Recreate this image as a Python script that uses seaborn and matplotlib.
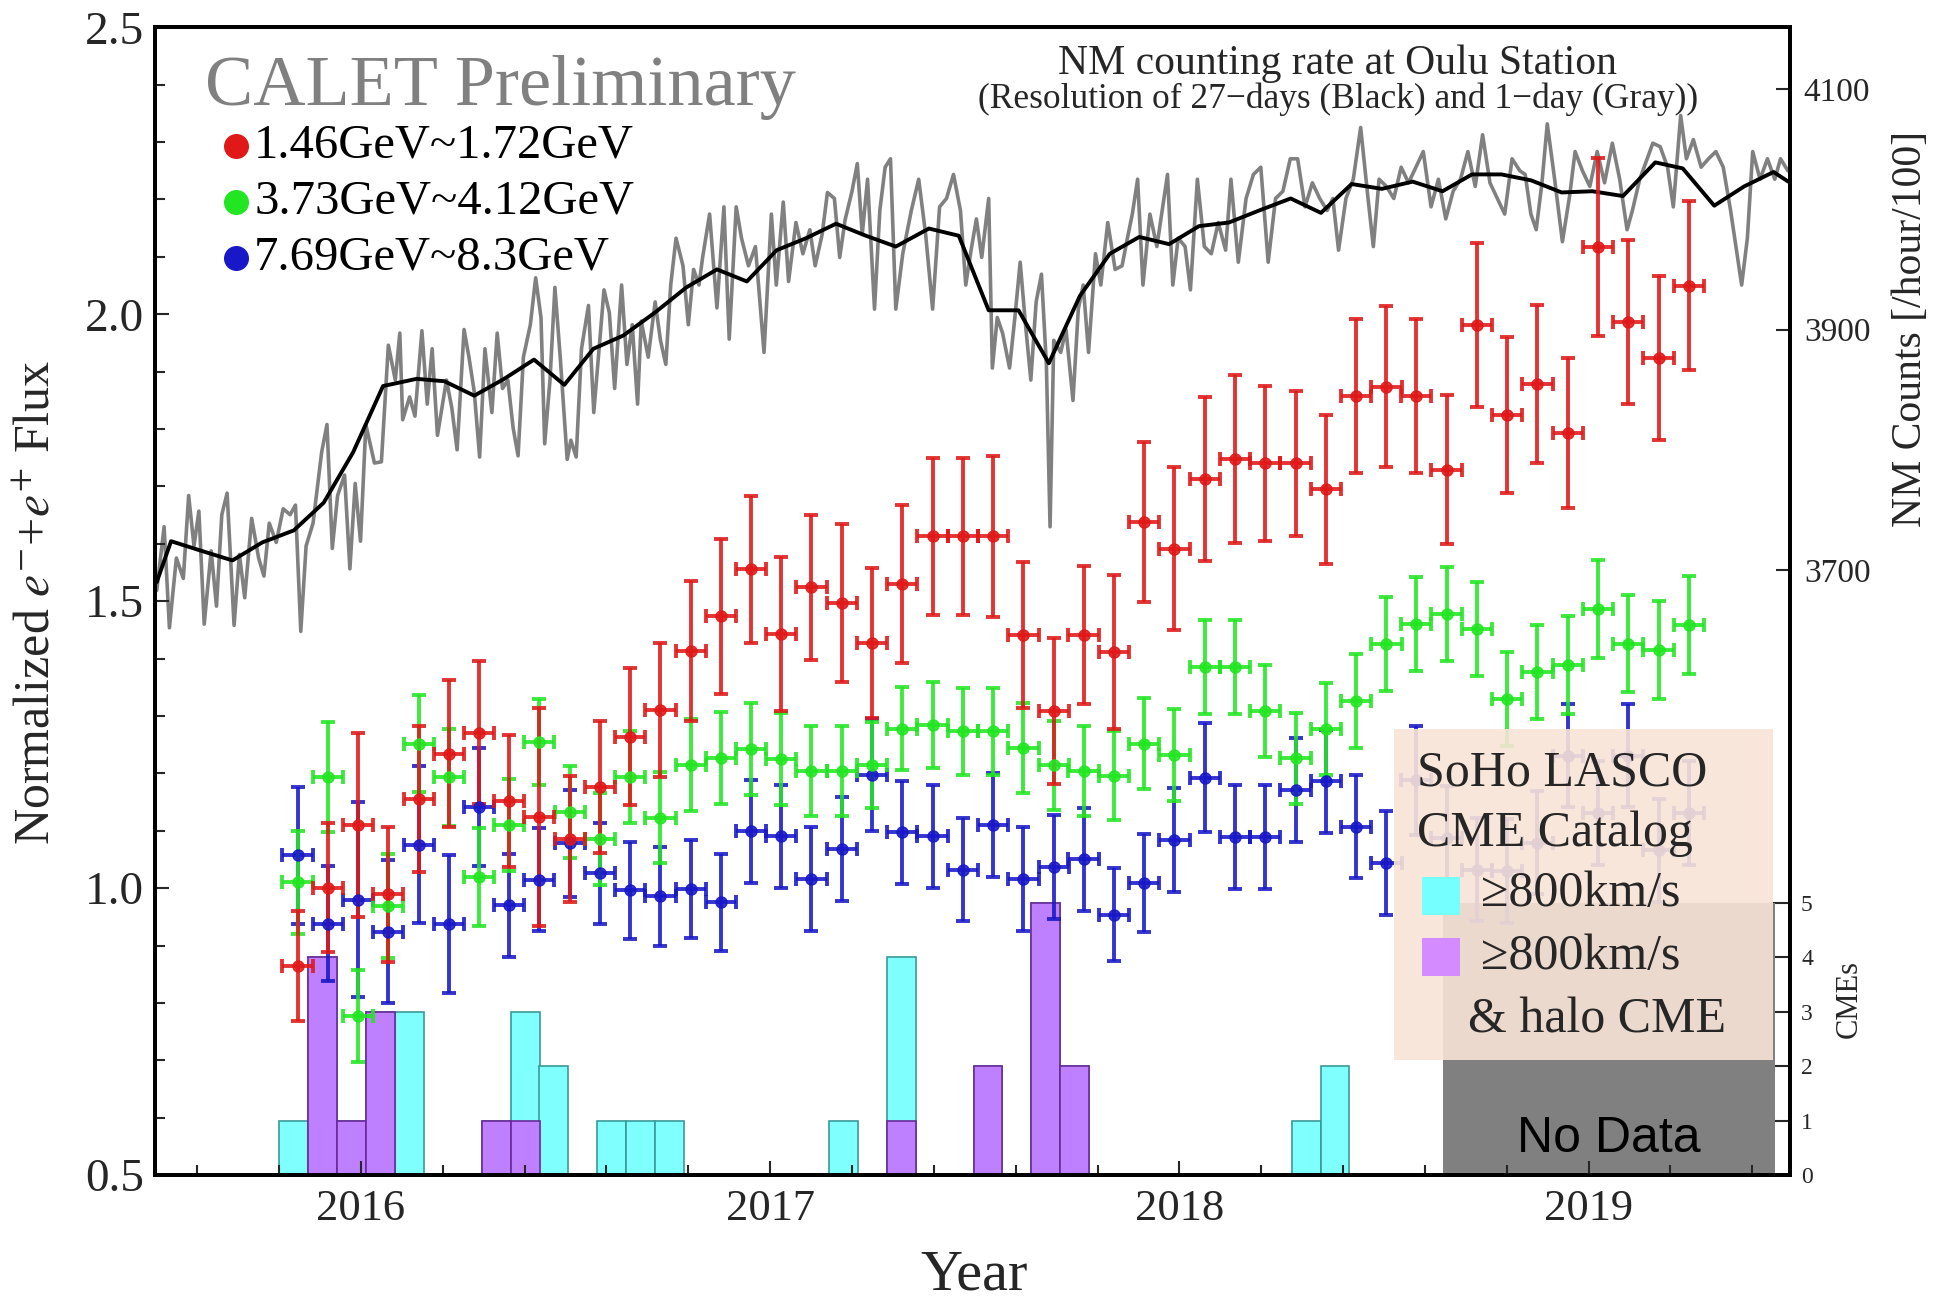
import numpy as np
import pandas as pd
import matplotlib
matplotlib.use("Agg")
import matplotlib.pyplot as plt
from matplotlib.patches import Rectangle
from matplotlib.ticker import MultipleLocator
import seaborn as sns

# ---------------------------------------------------------------- data
# Bartels-rotation (27-day) bin centres, decimal years
bin_year = [2015.845, 2015.919, 2015.993, 2016.067, 2016.141, 2016.215, 2016.288,
            2016.362, 2016.436, 2016.510, 2016.584, 2016.658, 2016.732, 2016.806,
            2016.880, 2016.954, 2017.027, 2017.101, 2017.175, 2017.249, 2017.323,
            2017.397, 2017.471, 2017.545, 2017.619, 2017.693, 2017.766, 2017.840,
            2017.914, 2017.988, 2018.062, 2018.136, 2018.210, 2018.284, 2018.358,
            2018.432, 2018.506, 2018.579, 2018.653, 2018.727, 2018.801, 2018.875,
            2018.949, 2019.023, 2019.097, 2019.171, 2019.245]
bin_half_width = 13.5 / 365.25

flux_low = [0.865, 1.001, 1.110, 0.989, 1.155, 1.234, 1.271, 1.152, 1.124, 1.085,
            1.176, 1.264, 1.311, 1.414, 1.474, 1.556, 1.443, 1.524, 1.497, 1.427,
            1.530, 1.613, 1.613, 1.613, 1.441, 1.308, 1.441, 1.411, 1.638, 1.591,
            1.713, 1.748, 1.740, 1.740, 1.695, 1.857, 1.874, 1.857, 1.729, 1.981,
            1.824, 1.879, 1.793, 2.117, 1.986, 1.924, 2.050]
err_low = [0.096, 0.112, 0.160, 0.118, 0.127, 0.128, 0.125, 0.115, 0.190, 0.110,
           0.115, 0.120, 0.117, 0.122, 0.135, 0.128, 0.134, 0.126, 0.138, 0.130,
           0.138, 0.137, 0.137, 0.140, 0.127, 0.127, 0.120, 0.134, 0.140, 0.142,
           0.143, 0.147, 0.135, 0.127, 0.130, 0.134, 0.140, 0.134, 0.130, 0.143,
           0.136, 0.138, 0.130, 0.155, 0.143, 0.143, 0.147]

flux_mid = [1.010, 1.193, 0.777, 0.969, 1.252, 1.193, 1.019, 1.110, 1.254, 1.132,
            1.085, 1.194, 1.123, 1.214, 1.227, 1.243, 1.225, 1.204, 1.204, 1.214,
            1.278, 1.285, 1.273, 1.273, 1.244, 1.214, 1.204, 1.196, 1.252, 1.232,
            1.386, 1.386, 1.308, 1.226, 1.278, 1.326, 1.426, 1.460, 1.478, 1.452,
            1.330, 1.376, 1.389, 1.486, 1.426, 1.415, 1.459]
err_mid = [0.090, 0.096, 0.080, 0.090, 0.085, 0.085, 0.085, 0.080, 0.075, 0.080,
           0.080, 0.080, 0.080, 0.080, 0.080, 0.080, 0.080, 0.078, 0.078, 0.075,
           0.073, 0.075, 0.075, 0.075, 0.078, 0.078, 0.078, 0.078, 0.080, 0.080,
           0.082, 0.082, 0.080, 0.080, 0.080, 0.082, 0.082, 0.082, 0.082, 0.082,
           0.082, 0.082, 0.085, 0.085, 0.085, 0.085, 0.085]

flux_high = [1.057, 0.938, 0.980, 0.924, 1.076, 0.938, 1.141, 0.970, 1.015, 1.078,
             1.026, 0.996, 0.986, 0.998, 0.975, 1.099, 1.090, 1.016, 1.068, 1.197,
             1.097, 1.090, 1.032, 1.110, 1.016, 1.037, 1.050, 0.954, 1.009, 1.084,
             1.192, 1.089, 1.089, 1.171, 1.186, 1.107, 1.044, 1.188, 1.088, 1.032,
             1.030, 1.079, 1.231, 1.131, 1.231, 1.066, 1.131]
err_high = [0.120, 0.100, 0.170, 0.125, 0.137, 0.120, 0.103, 0.090, 0.090, 0.093,
            0.088, 0.085, 0.086, 0.085, 0.084, 0.090, 0.090, 0.090, 0.090, 0.097,
            0.090, 0.090, 0.090, 0.090, 0.090, 0.090, 0.090, 0.081, 0.085, 0.090,
            0.095, 0.090, 0.090, 0.090, 0.090, 0.090, 0.090, 0.095, 0.090, 0.090,
            0.090, 0.090, 0.090, 0.090, 0.090, 0.090, 0.090]

# Oulu neutron monitor, 27-day averages
nm27_year = [2015.501, 2015.536, 2015.610, 2015.686, 2015.759, 2015.836, 2015.909,
             2015.981, 2016.054, 2016.136, 2016.204, 2016.277, 2016.350, 2016.423,
             2016.497, 2016.568, 2016.641, 2016.718, 2016.795, 2016.870, 2016.943,
             2017.016, 2017.088, 2017.161, 2017.234, 2017.307, 2017.388, 2017.461,
             2017.534, 2017.607, 2017.681, 2017.757, 2017.830, 2017.902, 2017.975,
             2018.048, 2018.121, 2018.195, 2018.272, 2018.346, 2018.421, 2018.495,
             2018.570, 2018.643, 2018.715, 2018.787, 2018.860, 2018.934, 2019.009,
             2019.084, 2019.163, 2019.230, 2019.307, 2019.380, 2019.452, 2019.488]
nm27_rate = [3690, 3724, 3716, 3708, 3723, 3733, 3756, 3798, 3853, 3859, 3857, 3845,
             3859, 3875, 3854, 3884, 3895, 3914, 3935, 3950, 3940, 3966, 3976, 3988,
             3978, 3969, 3984, 3978, 3916, 3916, 3872, 3928, 3963, 3977, 3971, 3986,
             3989, 3999, 4009, 3997, 4021, 4017, 4023, 4015, 4029, 4029, 4024, 4014,
             4015, 4011, 4039, 4034, 4003, 4019, 4031, 4023]

# Oulu neutron monitor, daily values
nm1_year = [2015.501, 2015.519, 2015.532, 2015.549, 2015.566, 2015.579, 2015.592, 2015.604,
            2015.617, 2015.634, 2015.647, 2015.660, 2015.673, 2015.690, 2015.703, 2015.716,
            2015.733, 2015.750, 2015.763, 2015.776, 2015.793, 2015.810, 2015.827, 2015.840,
            2015.853, 2015.866, 2015.883, 2015.904, 2015.917, 2015.930, 2015.943, 2015.960,
            2015.973, 2015.986, 2015.999, 2016.012, 2016.033, 2016.050, 2016.067, 2016.084,
            2016.095, 2016.102, 2016.119, 2016.132, 2016.149, 2016.162, 2016.174, 2016.187,
            2016.209, 2016.222, 2016.235, 2016.252, 2016.264, 2016.277, 2016.290, 2016.303,
            2016.320, 2016.333, 2016.346, 2016.359, 2016.372, 2016.384, 2016.397, 2016.414,
            2016.427, 2016.440, 2016.449, 2016.462, 2016.474, 2016.487, 2016.504, 2016.513,
            2016.526, 2016.539, 2016.556, 2016.569, 2016.582, 2016.594, 2016.607, 2016.620,
            2016.637, 2016.650, 2016.663, 2016.676, 2016.685, 2016.702, 2016.719, 2016.732,
            2016.745, 2016.757, 2016.770, 2016.787, 2016.800, 2016.813, 2016.826,
            2016.835, 2016.852, 2016.870, 2016.887, 2016.900, 2016.917, 2016.930, 2016.947,
            2016.964, 2016.985, 2017.003, 2017.015, 2017.032, 2017.045, 2017.063, 2017.080,
            2017.097, 2017.110, 2017.127, 2017.140, 2017.157, 2017.170, 2017.183, 2017.200,
            2017.213, 2017.225, 2017.238, 2017.255, 2017.268, 2017.281, 2017.294, 2017.307,
            2017.324, 2017.345, 2017.363, 2017.380, 2017.397, 2017.414, 2017.431, 2017.448,
            2017.465, 2017.478, 2017.491, 2017.504, 2017.517, 2017.534, 2017.543, 2017.555,
            2017.568, 2017.585, 2017.598, 2017.611, 2017.624, 2017.637, 2017.650, 2017.663,
            2017.675, 2017.684, 2017.693, 2017.710, 2017.723, 2017.740, 2017.753, 2017.765,
            2017.778, 2017.795, 2017.808, 2017.825, 2017.843, 2017.860, 2017.873, 2017.885,
            2017.898, 2017.911, 2017.928, 2017.945, 2017.958, 2017.971, 2017.984, 2017.997,
            2018.014, 2018.027, 2018.044, 2018.061, 2018.078, 2018.095,
            2018.113, 2018.126, 2018.144, 2018.163, 2018.181, 2018.199, 2018.217, 2018.235,
            2018.253, 2018.271, 2018.289, 2018.307, 2018.325, 2018.343, 2018.361, 2018.375,
            2018.389, 2018.407, 2018.425, 2018.443, 2018.461, 2018.474, 2018.488, 2018.506,
            2018.524, 2018.542, 2018.560, 2018.578, 2018.596, 2018.615, 2018.633, 2018.651,
            2018.669, 2018.687, 2018.705, 2018.723, 2018.741, 2018.759, 2018.777, 2018.795,
            2018.813, 2018.832, 2018.845, 2018.859, 2018.872, 2018.886, 2018.899, 2018.917,
            2018.936, 2018.954, 2018.967, 2018.985, 2019.003, 2019.021, 2019.039, 2019.058,
            2019.076, 2019.094, 2019.107, 2019.125, 2019.143, 2019.157, 2019.175, 2019.193,
            2019.207, 2019.225, 2019.239, 2019.256, 2019.275, 2019.293, 2019.311, 2019.329,
            2019.347, 2019.360, 2019.374, 2019.388, 2019.401, 2019.419, 2019.437, 2019.455,
            2019.469, 2019.487]
nm1_rate = [3683, 3736, 3652, 3710, 3693, 3762, 3720, 3749,
            3655, 3716, 3670, 3746, 3764, 3654, 3713, 3677,
            3743, 3710, 3695, 3739, 3723, 3751, 3746, 3754,
            3649, 3720, 3739, 3798, 3821, 3718, 3762, 3779,
            3701, 3772, 3724, 3821, 3789, 3790, 3887, 3858,
            3897, 3825, 3844, 3828, 3899, 3838, 3884, 3812,
            3858, 3835, 3800, 3900, 3877, 3848, 3794, 3884,
            3831, 3897, 3851, 3858, 3818, 3795, 3877, 3904,
            3943, 3910, 3805, 3858, 3935, 3877, 3792, 3808,
            3794, 3884, 3920, 3831, 3884, 3933, 3914, 3851,
            3937, 3871, 3904, 3838, 3907, 3877, 3923, 3891,
            3871, 3937, 3976, 3953, 3904, 3950, 3937,
            3960, 3996, 3918, 4002, 3892, 4002, 3976, 3953,
            3969, 3881, 3996, 3937, 4006, 3940, 3989, 3963,
            3983, 3953, 3979, 4014, 4009, 3960, 3991, 4015,
            4038, 3979, 4025, 3917, 3999, 4035, 4042, 3917,
            3963, 3999, 4025, 3979, 3917, 4002, 4009, 4029,
            3999, 3937, 3966, 3992, 3960, 4009, 3868, 3910,
            3897, 3868, 3910, 3956, 3904, 3858, 3923, 3946,
            3871, 3736, 3891, 3881, 3900, 3841, 3917, 3937,
            3881, 3963, 3937, 3989, 3950, 3953, 3976, 3996,
            4025, 3937, 3996, 3969, 3999, 4029, 3937, 3976,
            3969, 3933, 4025, 3969, 3963, 3989,
            3966, 4025, 3956, 4009, 4029, 4035, 3956, 4009,
            4015, 4042, 4042, 4002, 4022, 4009, 3999, 4009,
            3966, 4009, 4025, 4068, 4009, 3969, 4025, 4019,
            4009, 4035, 4022, 4035, 4048, 4002, 4025, 3992,
            4015, 4025, 4048, 4019, 4062, 4022, 4009, 3996,
            4042, 4032, 4029, 3996, 3983, 4022, 4071, 4025,
            3973, 4012, 4048, 4032, 4019, 4048, 4022, 4055,
            4025, 3983, 3999, 4025, 4042, 4055, 4052, 4035,
            4002, 4078, 4042, 4058, 4035, 4042, 4048, 4035,
            3999, 3969, 3937, 3976, 4048, 4025, 4042, 4025,
            4042, 4032]

# SOHO/LASCO CME catalogue counts per bin (bin start, decimal years)
cme_bin_start = [2015.800, 2015.871, 2015.941, 2016.012, 2016.083, 2016.295, 2016.366,
                 2016.436, 2016.578, 2016.648, 2016.719, 2017.143, 2017.285, 2017.497,
                 2017.638, 2017.709, 2018.275, 2018.345]
cme_fast = [1, 4, 1, 3, 3, 1, 3, 2, 1, 1, 1, 1, 4, 2, 5, 2, 1, 2]
cme_fast_halo = [0, 4, 1, 3, 0, 1, 1, 0, 0, 0, 0, 0, 1, 2, 5, 2, 0, 0]
cme_bin_width = 0.0707
cme_gap_start, cme_gap_end = 2018.645, 2019.455

series_labels = ["1.46GeV~1.72GeV", "3.73GeV~4.12GeV", "7.69GeV~8.3GeV"]
year_ticks = [2016, 2017, 2018, 2019]
flux_ticks = [0.5, 1.0, 1.5, 2.0, 2.5]
nm_ticks = [3700, 3900, 4100]
cme_ticks = [0, 1, 2, 3, 4, 5]

# ---------------------------------------------------------------- style
sns.set_theme(style="ticks")
plt.rcParams["font.family"] = ["Liberation Serif", "DejaVu Serif"]
plt.rcParams["mathtext.fontset"] = "stix"

RED, GREEN, BLUE = "#E01818", "#22E622", "#1818C8"
GRAY_LINE = "#808080"
W, H = 1946, 1302


def fx(px):
    return px / W


def fy(py):
    return 1 - py / H


fig = plt.figure(figsize=(19.46, 13.02), dpi=100)
fig.patch.set_facecolor("white")
ax = fig.add_axes([0.0797, 0.0975, 0.8401, 0.8815])
ax_cme = ax.twinx()
ax_nm = ax.twinx()
ax_cme.set_zorder(1)
ax_nm.set_zorder(2)
ax.set_zorder(3)
ax.patch.set_visible(False)
ax_nm.patch.set_visible(False)
ax_cme.patch.set_visible(True)
ax_cme.patch.set_facecolor("white")

XLIM = (2015.497, 2019.492)
ax.set_xlim(*XLIM)

# ---------------------------------------------------------------- CME histogram
ax_cme.add_patch(Rectangle((cme_gap_start, 0), cme_gap_end - cme_gap_start, 5,
                           facecolor="#808080", edgecolor="none", zorder=1))
ax_cme.bar(cme_bin_start, cme_fast, width=cme_bin_width, align="edge",
           color="#80FFFF", edgecolor="#3A9A9A", linewidth=1.2, zorder=2)
ax_cme.bar(cme_bin_start, cme_fast_halo, width=cme_bin_width, align="edge",
           color="#BF80FF", edgecolor="#6A2A99", linewidth=1.2, zorder=3)
ax_cme.text((cme_gap_start + cme_gap_end) / 2, 0.66, "No Data", ha="center", va="center",
            fontsize=36, family=["Liberation Sans", "DejaVu Sans"], color="black", zorder=4)
ax_cme.set_ylim(0, 21.1)
ax_cme.set_yticks(cme_ticks)
ax_cme.set_yticklabels([str(v) for v in cme_ticks])
ax_cme.tick_params(axis="y", which="both", direction="in", length=14, width=1.5,
                   labelsize=17, pad=8, right=True, left=False)
ax_cme.set_ylabel("")

# ---------------------------------------------------------------- neutron monitor
nm1 = pd.DataFrame({"year": nm1_year, "rate": nm1_rate})
nm27 = pd.DataFrame({"year": nm27_year, "rate": nm27_rate})
sns.lineplot(data=nm1, x="year", y="rate", ax=ax_nm, color=GRAY_LINE, linewidth=2.6,
             estimator=None, sort=False)
sns.lineplot(data=nm27, x="year", y="rate", ax=ax_nm, color="black", linewidth=2.8,
             estimator=None, sort=False)
ax_nm.set_xlim(*XLIM)
ax_nm.set_ylim(3196.9, 4151.3)
ax_nm.set_yticks(nm_ticks)
ax_nm.set_yticklabels([str(v) for v in nm_ticks])
ax_nm.tick_params(axis="y", which="both", direction="in", length=10, width=1.5,
                  labelsize=24, pad=10, right=True, left=False)
ax_nm.set_xlabel("")
ax_nm.set_ylabel("")

# ---------------------------------------------------------------- CALET flux points
for vals, errs, col in [(flux_high, err_high, BLUE), (flux_mid, err_mid, GREEN),
                        (flux_low, err_low, RED)]:
    ax.errorbar(bin_year, vals, yerr=errs, xerr=bin_half_width, fmt="o", color=col,
                markersize=8, elinewidth=2.8, capsize=5, capthick=2.8, alpha=0.88,
                zorder=5)

ax.set_ylim(0.5, 2.5)
ax.set_xticks(year_ticks)
ax.set_xticklabels([str(v) for v in year_ticks])
ax.xaxis.set_minor_locator(MultipleLocator(0.2))
ax.set_yticks(flux_ticks)
ax.set_yticklabels([f"{v:.1f}" for v in flux_ticks])
ax.yaxis.set_minor_locator(MultipleLocator(0.1))
ax.tick_params(axis="both", which="major", direction="in", length=10, width=1.5,
               top=False, right=False)
ax.tick_params(axis="both", which="minor", direction="in", length=7, width=1.5,
               top=False, right=False)
ax.tick_params(axis="y", labelsize=34, pad=8)
ax.tick_params(axis="x", labelsize=32, pad=10)
ax.set_xlabel("")
ax.set_ylabel("")

for a in (ax, ax_nm, ax_cme):
    for s in a.spines.values():
        s.set_linewidth(2.6)
        s.set_color("black")

# axis titles
fig.text(fx(974), fy(1276), "Year", fontsize=42, ha="center", va="center")
fig.text(fx(37), fy(602), r"Normalized $e^{-}$+$e^{+}$ Flux", fontsize=36,
         rotation=90, ha="center", va="center")
fig.text(fx(1911), fy(329), "NM Counts [/hour/100]", fontsize=30,
         rotation=90, ha="center", va="center")
fig.text(fx(1849), fy(999), "CMEs", fontsize=22, rotation=90, ha="center", va="center")

# ---------------------------------------------------------------- annotations
ax.text(0.0306, 0.948, "CALET Preliminary", transform=ax.transAxes, fontsize=52,
        color="#808080", ha="left", va="center", zorder=8)
for i, (lab, col) in enumerate(zip(series_labels, [RED, GREEN, BLUE])):
    yy = 0.897 - i * 0.0488
    ax.plot([0.0495], [yy], "o", color=col, markersize=17, transform=ax.transAxes,
            clip_on=False, zorder=8)
    ax.text(0.0606, yy, lab, transform=ax.transAxes, fontsize=35, ha="left",
            va="center", color="black", zorder=8)

ax.text(0.7235, 0.968, "NM counting rate at Oulu Station", transform=ax.transAxes,
        fontsize=30, ha="center", va="center", zorder=8)
ax.text(0.7235, 0.937, "(Resolution of 27\u2212days (Black) and 1\u2212day (Gray))",
        transform=ax.transAxes, fontsize=25.5, ha="center", va="center", zorder=8)

# CME catalogue key
ax.add_patch(Rectangle((0.758, 0.100), 0.2318, 0.2885, transform=ax.transAxes,
                       facecolor="#F8E4D6", edgecolor="none", alpha=0.9, zorder=10))
ax.text(0.772, 0.350, "SoHo LASCO", transform=ax.transAxes, fontsize=36, ha="left",
        va="center", zorder=11)
ax.text(0.772, 0.297, "CME Catalog", transform=ax.transAxes, fontsize=36, ha="left",
        va="center", zorder=11)
ax.add_patch(Rectangle((0.775, 0.2265), 0.0232, 0.0331, transform=ax.transAxes,
                       facecolor="#75FFFF", edgecolor="none", zorder=11))
ax.text(0.811, 0.245, "\u2265800km/s", transform=ax.transAxes, fontsize=36, ha="left",
        va="center", zorder=11)
ax.add_patch(Rectangle((0.775, 0.1734), 0.0232, 0.0331, transform=ax.transAxes,
                       facecolor="#D38BFF", edgecolor="none", zorder=11))
ax.text(0.811, 0.190, "\u2265800km/s", transform=ax.transAxes, fontsize=36, ha="left",
        va="center", zorder=11)
ax.text(0.803, 0.135, "& halo CME", transform=ax.transAxes, fontsize=36, ha="left",
        va="center", zorder=11)

fig.savefig("out.png", dpi=100, facecolor="white")
